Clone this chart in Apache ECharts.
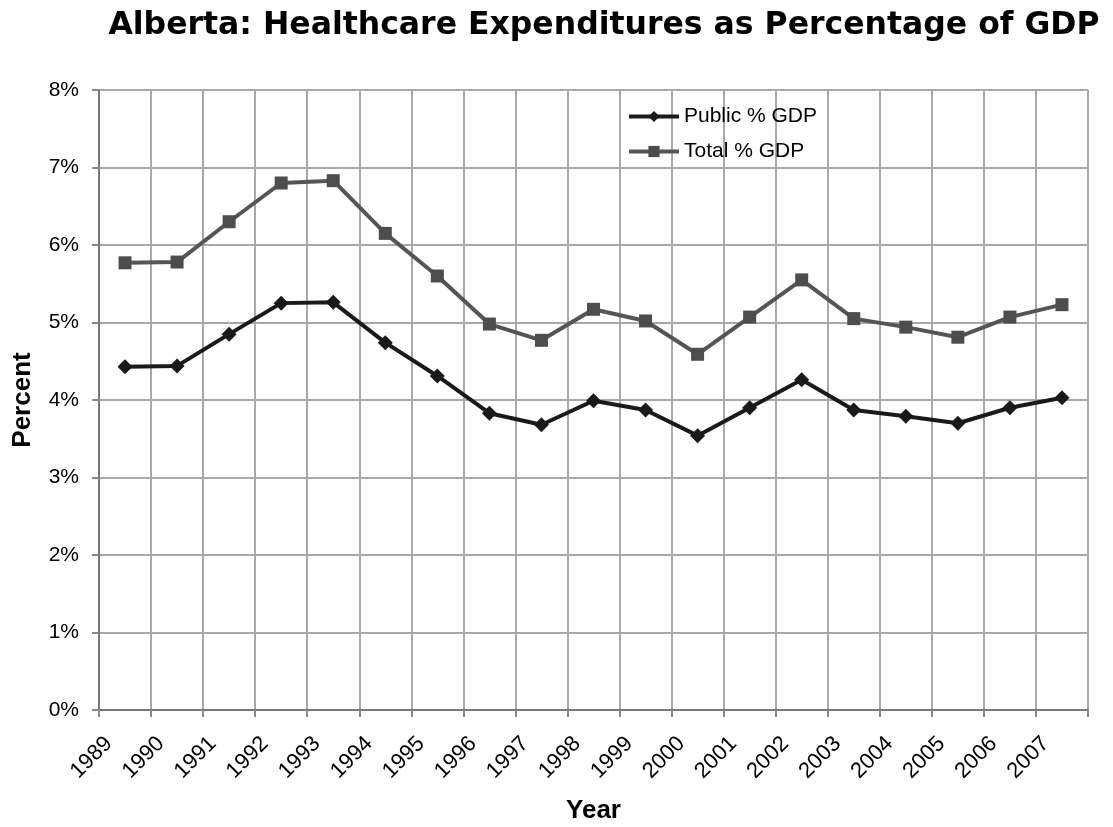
<!DOCTYPE html>
<html>
<head>
<meta charset="utf-8">
<script src="https://cdn.jsdelivr.net/npm/echarts@6/dist/echarts.min.js"></script>
<style>
  html, body { margin: 0; padding: 0; background: #fff; }
  #chart { width: 1113px; height: 827px; }
</style>
</head>
<body>
<div id="chart"></div>
<script>
// years on the x axis
var years = ["1989", "1990", "1991", "1992", "1993", "1994", "1995", "1996", "1997", "1998",
  "1999", "2000", "2001", "2002", "2003", "2004", "2005", "2006", "2007"];
// percent of GDP
var publicGdp = [4.43, 4.44, 4.85, 5.25, 5.26, 4.74, 4.31, 3.83, 3.68, 3.99,
  3.87, 3.54, 3.90, 4.26, 3.87, 3.79, 3.70, 3.90, 4.03];
var totalGdp = [5.77, 5.78, 6.30, 6.80, 6.83, 6.15, 5.60, 4.98, 4.77, 5.17,
  5.02, 4.59, 5.07, 5.55, 5.05, 4.94, 4.81, 5.07, 5.23];

var chart = echarts.init(document.getElementById("chart"));
var font = "Liberation Sans, Arial, sans-serif";

chart.setOption({
  animation: false,
  backgroundColor: "#fff",
  textStyle: { fontFamily: font },
  title: {
    text: "Alberta: Healthcare Expenditures as Percentage of GDP",
    left: 599,
    top: 5,
    textAlign: "center",
    textStyle: { fontSize: 31.5, fontWeight: "bold", color: "#000", fontFamily: "DejaVu Sans" }
  },
  legend: {
    orient: "vertical",
    left: 627,
    top: 106,
    padding: 0,
    itemWidth: 50,
    itemHeight: 14,
    itemGap: 14,
    lineStyle: { width: 4 },
    textStyle: { fontSize: 21, color: "#000", fontFamily: font },
    data: ["Public % GDP", "Total % GDP"]
  },
  grid: { left: 99, right: 25, top: 90, bottom: 117, outerBoundsMode: "none" },
  xAxis: {
    type: "category",
    data: years,
    boundaryGap: true,
    name: "Year",
    nameLocation: "middle",
    nameGap: 88,
    nameTextStyle: { fontSize: 26, fontWeight: "bold", color: "#000" },
    axisLine: { lineStyle: { color: "#777", width: 2 } },
    axisTick: { show: true, length: 7, lineStyle: { color: "#888", width: 2 } },
    splitLine: { show: true, lineStyle: { color: "#a8a8a8", width: 2 } },
    axisLabel: {
      rotate: 45,
      margin: 14,
      interval: 0,
      color: "#000",
      fontSize: 22,
      formatter: function (v) { return "{a|" + v + "}"; },
      rich: { a: { fontSize: 22, color: "#000", padding: [0, 23, 0, 0] } }
    }
  },
  yAxis: {
    type: "value",
    min: 0,
    max: 8,
    interval: 1,
    name: "Percent",
    nameLocation: "middle",
    nameGap: 63,
    nameTextStyle: { fontSize: 26, fontWeight: "bold", color: "#000" },
    axisLine: { show: true, lineStyle: { color: "#777", width: 2 } },
    axisTick: { show: true, length: 7, lineStyle: { color: "#888", width: 2 } },
    splitLine: { show: true, lineStyle: { color: "#a8a8a8", width: 2 } },
    axisLabel: {
      color: "#000",
      fontSize: 21,
      margin: 20,
      formatter: "{value}%"
    }
  },
  series: [
    {
      name: "Public % GDP",
      type: "line",
      data: publicGdp,
      symbol: "diamond",
      symbolSize: 15,
      color: "#1a1a1a",
      lineStyle: { color: "#1a1a1a", width: 4 },
      itemStyle: { color: "#1a1a1a" }
    },
    {
      name: "Total % GDP",
      type: "line",
      data: totalGdp,
      symbol: "rect",
      symbolSize: 13,
      color: "#555",
      lineStyle: { color: "#555", width: 4 },
      itemStyle: { color: "#4d4d4d" }
    }
  ]
});
</script>
</body>
</html>
